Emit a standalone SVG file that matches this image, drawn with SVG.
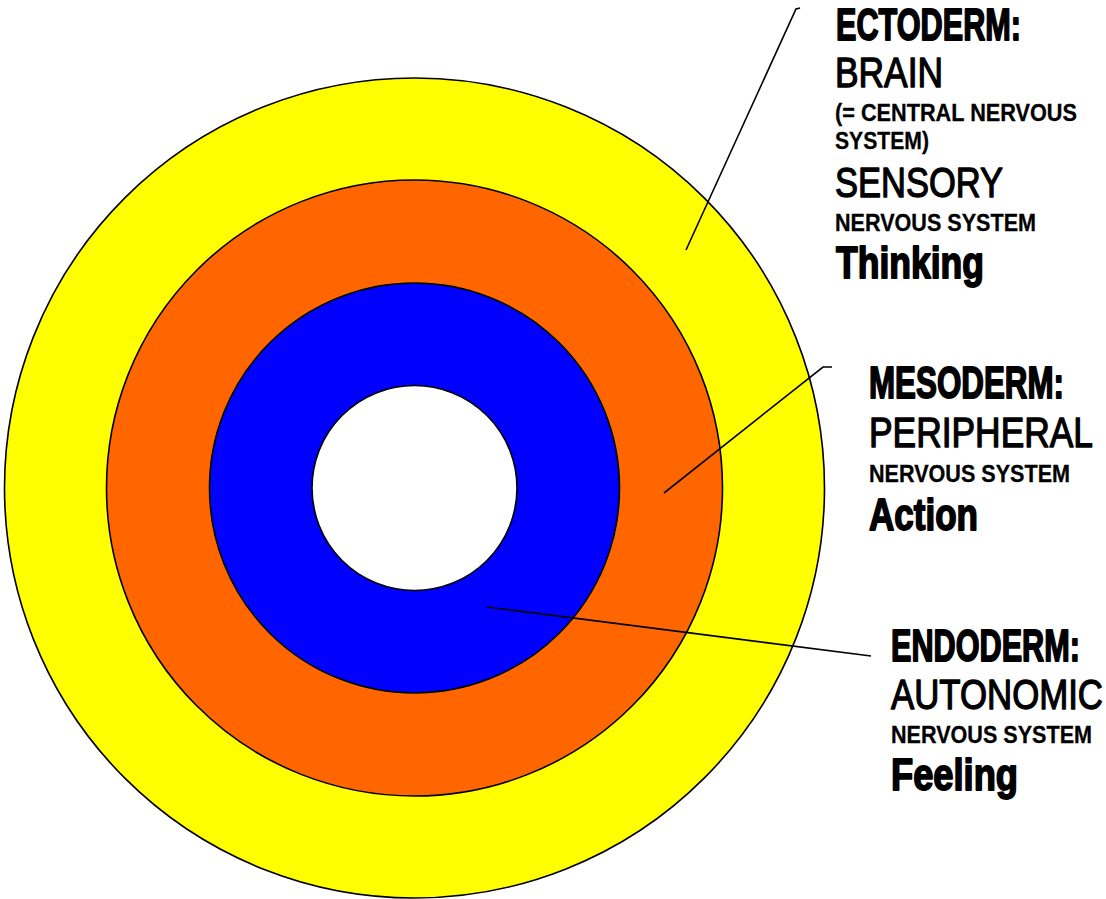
<svg xmlns="http://www.w3.org/2000/svg" width="1106" height="899" viewBox="0 0 1106 899">
<style>
.ring{stroke:#000;stroke-width:1.6}
.conn{fill:none;stroke:#000;stroke-width:1.6}
text{font-family:"Liberation Sans Narrow","Liberation Sans",Arial,sans-serif;fill:#000}
.h{font-size:45px;font-weight:bold;stroke:#000;stroke-width:1.8;stroke-linejoin:round}
.m{font-size:42px;font-weight:normal;stroke:#000;stroke-width:1.3;stroke-linejoin:round}
.s{font-size:24px;font-weight:bold;stroke:#000;stroke-width:0.3}
</style>
<rect width="1106" height="899" fill="#fff"/>
<g id="ectoderm-ring"><circle class="ring" cx="414.5" cy="488" r="410" fill="#ffff00"/></g>
<g id="mesoderm-ring"><circle class="ring" cx="414.5" cy="488" r="308" fill="#ff6600"/></g>
<g id="endoderm-ring"><circle class="ring" cx="414.5" cy="488" r="205" fill="#0000ff"/></g>
<g id="core"><circle class="ring" cx="414.5" cy="488" r="102.5" fill="#fff"/></g>
<g id="connectors">
<polyline class="conn" points="686,250 796,9 800,8"/>
<polyline class="conn" points="664,493 823,367 832,367"/>
<polyline class="conn" points="487,607 871,656"/>
</g>
<g id="ectoderm-label">
<text class="h" x="836" y="40" textLength="185" lengthAdjust="spacingAndGlyphs">ECTODERM:</text>
<text class="m" x="835" y="87" textLength="108" lengthAdjust="spacingAndGlyphs">BRAIN</text>
<text class="s" x="835" y="121" textLength="242" lengthAdjust="spacingAndGlyphs">(= CENTRAL NERVOUS</text>
<text class="s" x="835" y="149" textLength="94" lengthAdjust="spacingAndGlyphs">SYSTEM)</text>
<text class="m" x="835" y="197" textLength="168" lengthAdjust="spacingAndGlyphs">SENSORY</text>
<text class="s" x="835" y="231" textLength="201" lengthAdjust="spacingAndGlyphs">NERVOUS SYSTEM</text>
<text class="h" x="836" y="278" textLength="148" lengthAdjust="spacingAndGlyphs">Thinking</text>
</g>
<g id="mesoderm-label">
<text class="h" x="869" y="398" textLength="195" lengthAdjust="spacingAndGlyphs">MESODERM:</text>
<text class="m" x="869" y="447" textLength="224" lengthAdjust="spacingAndGlyphs">PERIPHERAL</text>
<text class="s" x="869" y="482" textLength="201" lengthAdjust="spacingAndGlyphs">NERVOUS SYSTEM</text>
<text class="h" x="869" y="530" textLength="109" lengthAdjust="spacingAndGlyphs">Action</text>
</g>
<g id="endoderm-label">
<text class="h" x="891" y="661" textLength="189" lengthAdjust="spacingAndGlyphs">ENDODERM:</text>
<text class="m" x="891" y="709" textLength="212" lengthAdjust="spacingAndGlyphs">AUTONOMIC</text>
<text class="s" x="891" y="743" textLength="201" lengthAdjust="spacingAndGlyphs">NERVOUS SYSTEM</text>
<text class="h" x="891" y="790" textLength="127" lengthAdjust="spacingAndGlyphs">Feeling</text>
</g>
</svg>
